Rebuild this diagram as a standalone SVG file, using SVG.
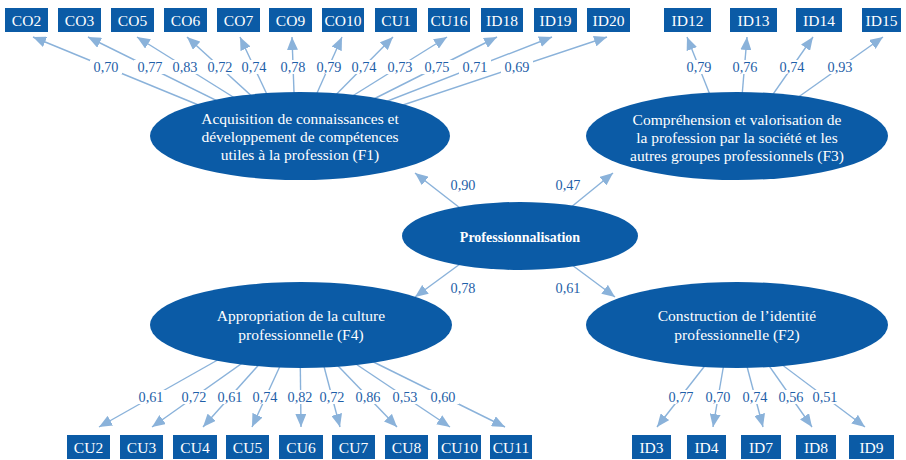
<svg xmlns="http://www.w3.org/2000/svg" width="906" height="460" viewBox="0 0 906 460">
<style>
.bx{fill:#0B5BA6}
.el{fill:#0B5BA6}
.bt{font-family:"Liberation Serif","Times New Roman",serif;font-size:15.5px;fill:#fff;text-anchor:middle}
.et{font-family:"Liberation Serif","Times New Roman",serif;font-size:15.5px;fill:#fff;text-anchor:middle}
.pt{font-family:"Liberation Serif","Times New Roman",serif;font-size:14px;font-weight:bold;fill:#fff;text-anchor:middle}
.ln{stroke:#8AB2DA;stroke-width:1.4;fill:none;marker-end:url(#ah)}
.lb{font-family:"Liberation Serif","Times New Roman",serif;font-size:14.3px;fill:#1F5FA8;text-anchor:middle}
.bg{fill:#fff}
</style>
<defs>
<marker id="ah" markerUnits="userSpaceOnUse" markerWidth="13" markerHeight="11" refX="13" refY="5.5" orient="auto">
<path d="M0,0 L13,5.5 L0,11 z" fill="#8AB2DA"/>
</marker>
</defs>
<rect width="906" height="460" fill="#fff"/>
<g id="connectors">
<line class="ln" x1="235" y1="120" x2="33" y2="37"/>
<line class="ln" x1="256" y1="120" x2="88" y2="37"/>
<line class="ln" x1="270" y1="120" x2="137" y2="37"/>
<line class="ln" x1="278" y1="120" x2="187" y2="37"/>
<line class="ln" x1="279" y1="120" x2="240" y2="37"/>
<line class="ln" x1="295" y1="120" x2="292" y2="37"/>
<line class="ln" x1="305" y1="120" x2="342" y2="37"/>
<line class="ln" x1="311" y1="120" x2="393" y2="37"/>
<line class="ln" x1="314" y1="120" x2="447" y2="37"/>
<line class="ln" x1="332" y1="120" x2="497" y2="37"/>
<line class="ln" x1="339" y1="120" x2="552" y2="37"/>
<line class="ln" x1="358" y1="120" x2="607" y2="37"/>
<line class="ln" x1="720" y1="120" x2="687" y2="37"/>
<line class="ln" x1="740" y1="120" x2="747" y2="37"/>
<line class="ln" x1="755" y1="120" x2="813" y2="37"/>
<line class="ln" x1="766" y1="120" x2="883" y2="37"/>
<line class="ln" x1="253" y1="340" x2="99" y2="427"/>
<line class="ln" x1="275" y1="340" x2="152" y2="427"/>
<line class="ln" x1="281" y1="340" x2="203" y2="427"/>
<line class="ln" x1="292" y1="340" x2="252" y2="427"/>
<line class="ln" x1="300" y1="340" x2="301" y2="427"/>
<line class="ln" x1="317" y1="340" x2="340" y2="427"/>
<line class="ln" x1="313" y1="340" x2="397" y2="427"/>
<line class="ln" x1="320" y1="340" x2="450" y2="427"/>
<line class="ln" x1="329" y1="340" x2="505" y2="427"/>
<line class="ln" x1="725" y1="340" x2="657" y2="427"/>
<line class="ln" x1="728" y1="340" x2="713" y2="427"/>
<line class="ln" x1="740" y1="340" x2="763" y2="427"/>
<line class="ln" x1="751" y1="340" x2="812" y2="427"/>
<line class="ln" x1="749" y1="340" x2="865" y2="427"/>
<line class="ln" x1="460" y1="208" x2="415" y2="173"/>
<line class="ln" x1="570" y1="208" x2="613" y2="173"/>
<line class="ln" x1="460" y1="264" x2="415" y2="297"/>
<line class="ln" x1="572" y1="265" x2="615" y2="297"/>
</g>
<g id="labels">
<rect class="bg" x="90" y="60" width="32" height="14"/><text class="lb" x="106" y="72">0,70</text>
<rect class="bg" x="134" y="60" width="32" height="14"/><text class="lb" x="150" y="72">0,77</text>
<rect class="bg" x="169" y="60" width="32" height="14"/><text class="lb" x="185" y="72">0,83</text>
<rect class="bg" x="204" y="60" width="32" height="14"/><text class="lb" x="220" y="72">0,72</text>
<rect class="bg" x="238" y="60" width="32" height="14"/><text class="lb" x="254" y="72">0,74</text>
<rect class="bg" x="277" y="60" width="32" height="14"/><text class="lb" x="293" y="72">0,78</text>
<rect class="bg" x="313" y="60" width="32" height="14"/><text class="lb" x="329" y="72">0,79</text>
<rect class="bg" x="348" y="60" width="32" height="14"/><text class="lb" x="364" y="72">0,74</text>
<rect class="bg" x="384" y="60" width="32" height="14"/><text class="lb" x="400" y="72">0,73</text>
<rect class="bg" x="421" y="60" width="32" height="14"/><text class="lb" x="437" y="72">0,75</text>
<rect class="bg" x="459" y="60" width="32" height="14"/><text class="lb" x="475" y="72">0,71</text>
<rect class="bg" x="501" y="60" width="32" height="14"/><text class="lb" x="517" y="72">0,69</text>
<rect class="bg" x="683" y="60" width="32" height="14"/><text class="lb" x="699" y="72">0,79</text>
<rect class="bg" x="729" y="60" width="32" height="14"/><text class="lb" x="745" y="72">0,76</text>
<rect class="bg" x="776" y="60" width="32" height="14"/><text class="lb" x="792" y="72">0,74</text>
<rect class="bg" x="824" y="60" width="32" height="14"/><text class="lb" x="840" y="72">0,93</text>
<rect class="bg" x="135" y="390" width="32" height="14"/><text class="lb" x="151" y="402">0,61</text>
<rect class="bg" x="178" y="390" width="32" height="14"/><text class="lb" x="194" y="402">0,72</text>
<rect class="bg" x="214" y="390" width="32" height="14"/><text class="lb" x="230" y="402">0,61</text>
<rect class="bg" x="249" y="390" width="32" height="14"/><text class="lb" x="265" y="402">0,74</text>
<rect class="bg" x="284" y="390" width="32" height="14"/><text class="lb" x="300" y="402">0,82</text>
<rect class="bg" x="316" y="390" width="32" height="14"/><text class="lb" x="332" y="402">0,72</text>
<rect class="bg" x="352" y="390" width="32" height="14"/><text class="lb" x="368" y="402">0,86</text>
<rect class="bg" x="389" y="390" width="32" height="14"/><text class="lb" x="405" y="402">0,53</text>
<rect class="bg" x="427" y="390" width="32" height="14"/><text class="lb" x="443" y="402">0,60</text>
<rect class="bg" x="665" y="390" width="32" height="14"/><text class="lb" x="681" y="402">0,77</text>
<rect class="bg" x="702" y="390" width="32" height="14"/><text class="lb" x="718" y="402">0,70</text>
<rect class="bg" x="739" y="390" width="32" height="14"/><text class="lb" x="755" y="402">0,74</text>
<rect class="bg" x="775" y="390" width="32" height="14"/><text class="lb" x="791" y="402">0,56</text>
<rect class="bg" x="809" y="390" width="32" height="14"/><text class="lb" x="825" y="402">0,51</text>
<text class="lb" x="463" y="190">0,90</text>
<text class="lb" x="568" y="190">0,47</text>
<text class="lb" x="463" y="293">0,78</text>
<text class="lb" x="568" y="293">0,61</text>
</g>
<g id="F1"><ellipse class="el" cx="300" cy="136" rx="150" ry="44"/>
<text class="et" x="300" y="124">Acquisition de connaissances et</text>
<text class="et" x="300" y="142">développement de compétences</text>
<text class="et" x="300" y="160">utiles à la profession (F1)</text></g>
<g id="F3"><ellipse class="el" cx="737" cy="136" rx="151" ry="44"/>
<text class="et" x="737" y="125">Compréhension et valorisation de</text>
<text class="et" x="737" y="143">la profession par la société et les</text>
<text class="et" x="737" y="161">autres groupes professionnels (F3)</text></g>
<g id="P"><ellipse class="el" cx="520" cy="236" rx="118" ry="34"/>
<text class="pt" x="520" y="242">Professionnalisation</text></g>
<g id="F4"><ellipse class="el" cx="301" cy="325" rx="151" ry="43"/>
<text class="et" x="301" y="321">Appropriation de la culture</text>
<text class="et" x="301" y="340">professionnelle (F4)</text></g>
<g id="F2"><ellipse class="el" cx="737" cy="325" rx="151" ry="43"/>
<text class="et" x="737" y="321">Construction de l’identité</text>
<text class="et" x="737" y="340">professionnelle (F2)</text></g>
<g id="CO2"><rect class="bx" x="5" y="8" width="43" height="24"/><text class="bt" x="26.5" y="26">CO2</text></g>
<g id="CO3"><rect class="bx" x="58" y="8" width="43" height="24"/><text class="bt" x="79.5" y="26">CO3</text></g>
<g id="CO5"><rect class="bx" x="111" y="8" width="43" height="24"/><text class="bt" x="132.5" y="26">CO5</text></g>
<g id="CO6"><rect class="bx" x="164" y="8" width="43" height="24"/><text class="bt" x="185.5" y="26">CO6</text></g>
<g id="CO7"><rect class="bx" x="217" y="8" width="43" height="24"/><text class="bt" x="238.5" y="26">CO7</text></g>
<g id="CO9"><rect class="bx" x="269" y="8" width="43" height="24"/><text class="bt" x="290.5" y="26">CO9</text></g>
<g id="CO10"><rect class="bx" x="322" y="8" width="42" height="24"/><text class="bt" x="343" y="26">CO10</text></g>
<g id="CU1"><rect class="bx" x="375" y="8" width="42" height="24"/><text class="bt" x="396" y="26">CU1</text></g>
<g id="CU16"><rect class="bx" x="428" y="8" width="42" height="24"/><text class="bt" x="449" y="26">CU16</text></g>
<g id="ID18"><rect class="bx" x="481" y="8" width="42" height="24"/><text class="bt" x="502" y="26">ID18</text></g>
<g id="ID19"><rect class="bx" x="534" y="8" width="43" height="24"/><text class="bt" x="555.5" y="26">ID19</text></g>
<g id="ID20"><rect class="bx" x="587" y="8" width="43" height="24"/><text class="bt" x="608.5" y="26">ID20</text></g>
<g id="ID12"><rect class="bx" x="664" y="8" width="47" height="24"/><text class="bt" x="687.5" y="26">ID12</text></g>
<g id="ID13"><rect class="bx" x="730" y="8" width="47" height="24"/><text class="bt" x="753.5" y="26">ID13</text></g>
<g id="ID14"><rect class="bx" x="796" y="8" width="46" height="24"/><text class="bt" x="819" y="26">ID14</text></g>
<g id="ID15"><rect class="bx" x="862" y="8" width="39" height="24"/><text class="bt" x="881.5" y="26">ID15</text></g>
<g id="CU2"><rect class="bx" x="67" y="435" width="43" height="24"/><text class="bt" x="88.5" y="453">CU2</text></g>
<g id="CU3"><rect class="bx" x="120" y="435" width="43" height="24"/><text class="bt" x="141.5" y="453">CU3</text></g>
<g id="CU4"><rect class="bx" x="173" y="435" width="44" height="24"/><text class="bt" x="195" y="453">CU4</text></g>
<g id="CU5"><rect class="bx" x="226" y="435" width="43" height="24"/><text class="bt" x="247.5" y="453">CU5</text></g>
<g id="CU6"><rect class="bx" x="279" y="435" width="44" height="24"/><text class="bt" x="301" y="453">CU6</text></g>
<g id="CU7"><rect class="bx" x="332" y="435" width="43" height="24"/><text class="bt" x="353.5" y="453">CU7</text></g>
<g id="CU8"><rect class="bx" x="385" y="435" width="43" height="24"/><text class="bt" x="406.5" y="453">CU8</text></g>
<g id="CU10"><rect class="bx" x="438" y="435" width="43" height="24"/><text class="bt" x="459.5" y="453">CU10</text></g>
<g id="CU11"><rect class="bx" x="490" y="435" width="42" height="24"/><text class="bt" x="511" y="453">CU11</text></g>
<g id="ID3"><rect class="bx" x="632" y="435" width="39" height="24"/><text class="bt" x="651.5" y="453">ID3</text></g>
<g id="ID4"><rect class="bx" x="687" y="435" width="39" height="24"/><text class="bt" x="706.5" y="453">ID4</text></g>
<g id="ID7"><rect class="bx" x="741" y="435" width="40" height="24"/><text class="bt" x="761" y="453">ID7</text></g>
<g id="ID8"><rect class="bx" x="796" y="435" width="40" height="24"/><text class="bt" x="816" y="453">ID8</text></g>
<g id="ID9"><rect class="bx" x="849" y="435" width="45" height="24"/><text class="bt" x="871.5" y="453">ID9</text></g>
</svg>
